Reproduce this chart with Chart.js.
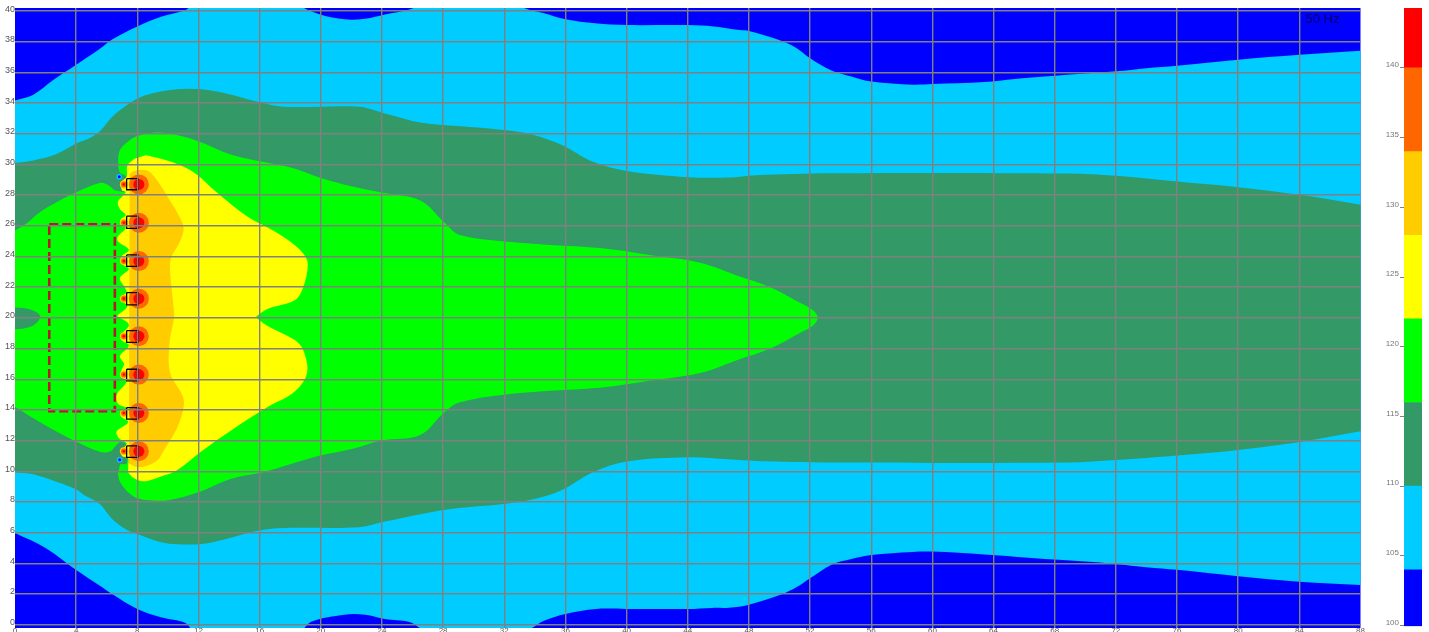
<!DOCTYPE html>
<html>
<head>
<meta charset="utf-8">
<title>50 Hz</title>
<script src="https://cdn.jsdelivr.net/npm/chart.js@4/dist/chart.umd.min.js"></script>
<style>
html, body { margin: 0; padding: 0; background: #fff; overflow: hidden; }
canvas { position: absolute; top: 0; }
</style>
</head>
<body>
<canvas id="mapChart" width="1429" height="632" style="left:0"></canvas>
<canvas id="scaleChart" width="68" height="632" style="left:1361px"></canvas>
<script>
// contour outlines, [metres, metres]
var backgroundOutline = [[-1, -1], [89, -1], [89, 41], [-1, 41]];

var cyanOutline = [
    [0, 34.17], [1.2, 34.55], [2.5, 35.5], [4, 36.5], [5.55, 37.54], [6.35, 38.15], [8, 39], [9.55, 39.63], [11.15, 40.07], [11.8, 40.5],
    [18.5, 40.5], [18.9, 40.2], [19.95, 39.78], [21.55, 39.46], [22.9, 39.5], [24.2, 39.78], [25.8, 40.1], [26.9, 40.5],
    [33, 40.5], [33.3, 40.2], [34.6, 39.85], [36, 39.46], [37.95, 39.2], [40, 39.09], [44, 39.09], [45.7, 39], [47.4, 38.76],
    [48, 38.7], [50.2, 38.04], [51.1, 37.6], [52, 36.93], [53.4, 36.13], [54.7, 35.74], [56, 35.41], [58.7, 35.2], [60, 35.24],
    [63.4, 35.37], [65.4, 35.57], [68, 35.78], [72, 36.07], [74, 36.28], [76, 36.43], [80, 36.83], [84, 37.15], [88, 37.41], [89, 37.5],
    [89, 2.5], [88, 2.59], [84, 2.8], [80, 3.15], [76, 3.57], [74, 3.74], [72, 3.96], [68, 4.24], [65.4, 4.43], [63.4, 4.57],
    [60, 4.76], [58.7, 4.74], [56, 4.54], [54.7, 4.28], [53.4, 3.91], [52, 3.02], [51.1, 2.43], [50.2, 2], [48, 1.3], [46.7, 1.1],
    [45.6, 1.09], [44, 1.02], [40, 1.02], [38, 1.02], [36, 0.7], [34.6, 0.26], [33.1, -0.5], [27.1, -0.5], [25.8, 0.17], [24.2, 0.37],
    [22.9, 0.65], [21.55, 0.65], [19.4, 0.2], [18.5, -0.5], [11.8, -0.5], [11.15, 0.11], [9.55, 0.48], [8, 1.02], [6.35, 2], [5.55, 2.54],
    [4, 3.56], [2, 5], [0, 5.97]
];

var seaGreenOutline = [
    [0, 30.1], [1.2, 30.26], [2.75, 30.7], [4.07, 31.4], [4.83, 31.7], [5.55, 32.17], [6.35, 33.1], [7.28, 33.85], [8.48, 34.5], [10.6, 34.9],
    [12.2, 34.9], [13.8, 34.63], [15.95, 34.07], [17.55, 33.76], [22.5, 33.76], [24.2, 33.33], [26.6, 32.72], [29, 32.5], [31.95, 32.24],
    [33.8, 31.96], [35.7, 31.3], [37.8, 30.17], [40, 29.57], [44, 29.17], [46.7, 29.15], [48.45, 29.3], [53.4, 29.43], [68.9, 29.41],
    [72, 29.26], [76, 28.89], [80, 28.52], [84, 28.02], [88, 27.37], [89, 27.2],
    [89, 12.8], [88, 12.61], [84, 11.91], [80, 11.39], [76, 11.02], [74, 10.87], [72, 10.74], [68.9, 10.57], [53.4, 10.57], [48.45, 10.67],
    [46.7, 10.78], [44, 10.91], [40, 10.63], [37.8, 9.93], [35.7, 8.74], [33.8, 8.15], [31.95, 7.87], [29, 7.6], [26.6, 7.22], [24.2, 6.72],
    [22.5, 6.35], [17.55, 6.3], [15.95, 6.13], [13.8, 5.59], [12.2, 5.26], [10.6, 5.24], [9.55, 5.37], [8, 5.91], [7.28, 6.2], [6.35, 6.89],
    [5.55, 7.87], [4.6, 8.4], [3.95, 8.85], [2.74, 9.3], [1.2, 9.8], [0, 9.94]
];

var greenOutline = [
    [0, 25.7], [0.77, 26.17], [1.64, 26.9], [2.74, 27.55], [4.05, 28.2], [5.6, 28.8], [6.14, 28.63], [6.58, 28.3], [7.3, 28.3], [7.3, 29.2],
    [6.85, 29.5], [6.75, 30.33], [6.88, 30.98], [7.4, 31.5], [8, 31.85], [9, 32.07], [10.1, 32.02], [12, 31.52], [14.1, 30.65], [16.2, 30.17],
    [18.1, 29.78], [19.95, 29.13], [21.5, 28.7], [23.8, 28.2], [26.5, 27.65], [28.1, 26.2], [29.1, 25.4], [33, 24.9], [38.25, 24.55],
    [41.5, 24.1], [44.8, 23.6], [47.4, 22.7], [49.4, 22], [51.3, 21], [52.2, 20.5], [52.5, 20],
    [52.2, 19.5], [51.3, 19], [49.4, 18], [47.4, 17.3], [44.8, 16.4], [41.5, 15.9], [38.25, 15.45], [33, 15.1], [29.1, 14.5], [28.1, 13.86], [26.5, 12.36],
    [23.95, 12], [22.1, 11.46], [19.95, 11.02], [18.1, 10.48], [16.2, 9.93], [14.1, 9.5], [12, 8.63], [10.1, 8.13], [9, 8.09], [8, 8.24],
    [7.4, 8.63], [6.88, 9.28], [6.73, 9.9], [6.8, 10.1], [6.9, 10.45], [7.3, 10.5], [7.3, 11.7], [6.9, 11.9], [6.58, 11.65], [6.25, 11.3],
    [5.6, 11.25], [4.05, 11.9], [2.5, 12.7], [1.2, 13.45], [0, 14.2]
];

var leftWedgeOutline = [[-0.5, 20.7], [1, 20.55], [1.65, 20.1], [1.1, 19.45], [-0.5, 19.2]];

var yellowOutline = [
    [8.55, 30.6], [9.55, 30.37], [10.85, 29.93], [11.95, 29.3], [13.05, 28.3], [15.24, 26.57], [16.55, 25.87], [17.9, 25.04], [18.85, 24.2],
    [19.15, 23.5], [18.85, 22], [18.3, 21.15], [16.55, 20.6], [15.8, 20.1], [15.8, 20], [16.55, 19.45], [18.3, 18.55], [18.85, 17.9], [19.1, 16.4],
    [18.3, 15.2], [16.55, 14.2], [14.35, 12.8], [12.2, 11.3], [10.65, 10.1], [9.55, 9.65], [8.65, 9.37], [8, 9.43], [7.45, 9.85], [7.4, 10.3],
    [7.4, 10.85], [7, 11], [6.95, 11.35], [7.3, 11.8], [6.8, 12.15], [6.65, 12.6], [7.4, 13.2], [6.95, 13.55], [6.9, 13.75], [7.3, 14.1],
    [6.73, 14.4], [6.65, 15], [7.3, 15.85], [6.95, 16.2], [6.95, 16.55], [7.13, 17], [6.86, 17.5], [7.45, 18.2], [6.95, 18.55], [6.95, 18.9],
    [7.45, 19.55], [6.7, 20.1], [6.7, 20.15], [7.35, 20.75], [6.95, 21.15], [6.95, 21.35], [7.3, 21.7], [7.13, 22.05], [6.86, 22.6], [7.45, 23.2],
    [6.95, 23.55], [6.95, 24], [7.45, 24.43], [6.73, 25], [6.73, 25.3], [7.24, 25.85], [6.9, 26.2], [6.9, 26.4], [7.24, 26.7], [6.86, 27.1],
    [6.73, 27.55], [7.24, 28.2], [7, 28.3], [6.95, 28.85], [7.3, 29.2], [7.35, 29.93], [7.8, 30.37]
];

var goldOutline = [
    [7.5, 29.4], [7.9, 29.6], [8.66, 29.6], [9.3, 28.95], [9.98, 27.9], [10.64, 26.8], [11.03, 25.85], [10.75, 24.9], [10.2, 23.9], [10.15, 22.9],
    [10.37, 20.7], [10.4, 20], [10.1, 18.35], [10.15, 16.4], [10.97, 14.9], [11.03, 14.2], [10.64, 12.9], [9.76, 11.4], [9.3, 10.7], [8.44, 10.3],
    [7.9, 10.3], [7.45, 10.5]
];

// loudspeakers and the listening area
var speakerX = [8.1, 8.1, 8.1, 8.1, 8.1, 8.1, 8.1, 8.1];
var speakerY = [28.7, 26.2, 23.7, 21.25, 18.8, 16.3, 13.8, 11.3];
var sideDotX = [7.12, 7.12, 7.12, 7.12, 7.12, 7.12, 7.12, 7.12];
var dipX = [6.82, 6.85];
var dipY = [29.2, 10.75];
var boxLeft = [7.3, 7.3, 7.3, 7.3, 7.3, 7.3, 7.3, 7.3];
var boxRight = [8.05, 8.05, 8.05, 8.05, 8.05, 8.05, 8.05, 8.05];
var boxTop = [29.07, 26.63, 24.1, 21.65, 19.17, 16.65, 14.15, 11.65];
var boxBottom = [28.35, 25.83, 23.35, 20.85, 18.4, 15.9, 13.4, 10.9];
var areaOutline = [[2.24, 26.1], [6.53, 26.1], [6.53, 13.92], [2.24, 13.92], [2.24, 26.1]];

// colour bar
var bandLow = [99.95, 104, 110, 116, 122, 128, 134, 140];
var bandHigh = [104, 110, 116, 122, 128, 134, 140, 144.3];
var bandColors = ['#0000ff', '#00ccff', '#339966', '#00ff00', '#ffff00', '#ffcc00', '#ff6600', '#ff0000'];
var frequencyLabel = '50 Hz';

function zipPoints(xs, ys) {
    return xs.map(function (x, i) { return [x, ys[i]]; });
}

function band(outline, color) {
    return {
        data: outline,
        showLine: true,
        fill: 'shape',
        backgroundColor: color,
        borderWidth: 0,
        pointRadius: 0,
        tension: 0.35
    };
}

function dots(points, color, radius) {
    return {
        data: points,
        showLine: false,
        backgroundColor: color,
        pointBackgroundColor: color,
        pointBorderWidth: 0,
        pointRadius: radius
    };
}

var speakerPoints = zipPoints(speakerX, speakerY);
var sidePoints = zipPoints(sideDotX, speakerY);
var dipPoints = zipPoints(dipX, dipY);

var mapDatasets = [
    band(backgroundOutline, '#0000ff'),
    band(cyanOutline, '#00ccff'),
    band(seaGreenOutline, '#339966'),
    band(greenOutline, '#00ff00'),
    band(leftWedgeOutline, '#339966'),
    band(yellowOutline, '#ffff00'),
    band(goldOutline, '#ffcc00'),
    dots(dipPoints, '#00ccff', 2.8),
    dots(dipPoints, '#0000ff', 1.5),
    dots(speakerPoints, '#ff6600', 10),
    dots(speakerPoints, '#ff0000', 5.5),
    dots(sidePoints, '#ffcc00', 4),
    dots(sidePoints, '#ff6600', 2.8),
    dots(sidePoints, '#ff0000', 1.3)
];

speakerY.forEach(function (y, i) {
    mapDatasets.push({
        data: [[boxLeft[i], boxTop[i]], [boxRight[i], boxTop[i]], [boxRight[i], boxBottom[i]], [boxLeft[i], boxBottom[i]], [boxLeft[i], boxTop[i]]],
        showLine: true,
        borderColor: '#000000',
        borderWidth: 1.3,
        pointRadius: 0
    });
});

mapDatasets.push({
    data: areaOutline,
    showLine: true,
    borderColor: '#b01a2a',
    borderWidth: 2.6,
    borderDash: [9, 4],
    pointRadius: 0
});

// first in the list is painted first
mapDatasets.forEach(function (ds, i) { ds.order = mapDatasets.length - i; });

var frequencyText = {
    id: 'frequencyText',
    afterDraw: function (chart) {
        var ctx = chart.ctx;
        ctx.save();
        ctx.font = '13px "Liberation Sans"';
        ctx.fillStyle = 'rgba(0, 0, 40, 0.75)';
        ctx.textBaseline = 'middle';
        ctx.fillText(frequencyLabel, chart.scales.x.getPixelForValue(84.4), chart.scales.y.getPixelForValue(39.47));
        ctx.restore();
    }
};

var mapChart = new Chart(document.getElementById('mapChart').getContext('2d'), {
    type: 'scatter',
    data: { datasets: mapDatasets },
    plugins: [frequencyText],
    options: {
        responsive: false,
        animation: false,
        events: [],
        layout: { autoPadding: false, padding: { left: 0, right: 68.5, top: 8, bottom: 0 } },
        plugins: { legend: { display: false }, tooltip: { enabled: false } },
        scales: {
            x: {
                type: 'linear',
                min: 0,
                max: 88,
                afterFit: function (scale) {
                    scale.height = 4;
                    scale.paddingLeft = 0;
                    scale.paddingRight = 0;
                },
                border: { display: false },
                grid: {
                    color: function (ctx) {
                        return ctx.tick && (ctx.tick.value === 0 || ctx.tick.value === 88) ? 'rgba(0,0,0,0)' : '#808080';
                    },
                    lineWidth: 1.4,
                    z: 1,
                    drawTicks: false
                },
                ticks: {
                    stepSize: 4,
                    autoSkip: false,
                    maxRotation: 0,
                    padding: 0,
                    includeBounds: false,
                    color: '#555555',
                    font: { family: '"Liberation Sans"', size: 8, lineHeight: 0.8 }
                }
            },
            y: {
                type: 'linear',
                min: -0.22,
                max: 40.2,
                afterFit: function (scale) {
                    scale.width = 15;
                    scale.paddingTop = 0;
                    scale.paddingBottom = 0;
                },
                border: { display: false },
                grid: { color: '#808080', lineWidth: 1.4, z: 1, drawTicks: false },
                ticks: {
                    stepSize: 2,
                    autoSkip: false,
                    padding: 0,
                    labelOffset: -2,
                    includeBounds: false,
                    color: '#555555',
                    font: { family: '"Liberation Sans"', size: 9 }
                }
            }
        }
    }
});

var scaleChart = new Chart(document.getElementById('scaleChart').getContext('2d'), {
    type: 'bar',
    data: {
        labels: [''],
        datasets: bandLow.map(function (low, i) {
            return { data: [[low, bandHigh[i]]], backgroundColor: bandColors[i], barPercentage: 1, categoryPercentage: 1, grouped: false };
        })
    },
    options: {
        responsive: false,
        animation: false,
        events: [],
        layout: { padding: { left: 0, right: 7, top: 8, bottom: 5.3 } },
        plugins: { legend: { display: false }, tooltip: { enabled: false } },
        scales: {
            x: { display: false },
            y: {
                min: 99.95,
                max: 144.3,
                afterFit: function (scale) { scale.width = 43; },
                border: { display: false },
                grid: { color: '#808080', drawOnChartArea: false, tickLength: 4 },
                ticks: {
                    stepSize: 5,
                    includeBounds: false,
                    padding: 1,
                    labelOffset: -3,
                    color: '#777777',
                    font: { family: '"Liberation Sans"', size: 8 }
                }
            }
        }
    }
});
</script>
</body>
</html>
